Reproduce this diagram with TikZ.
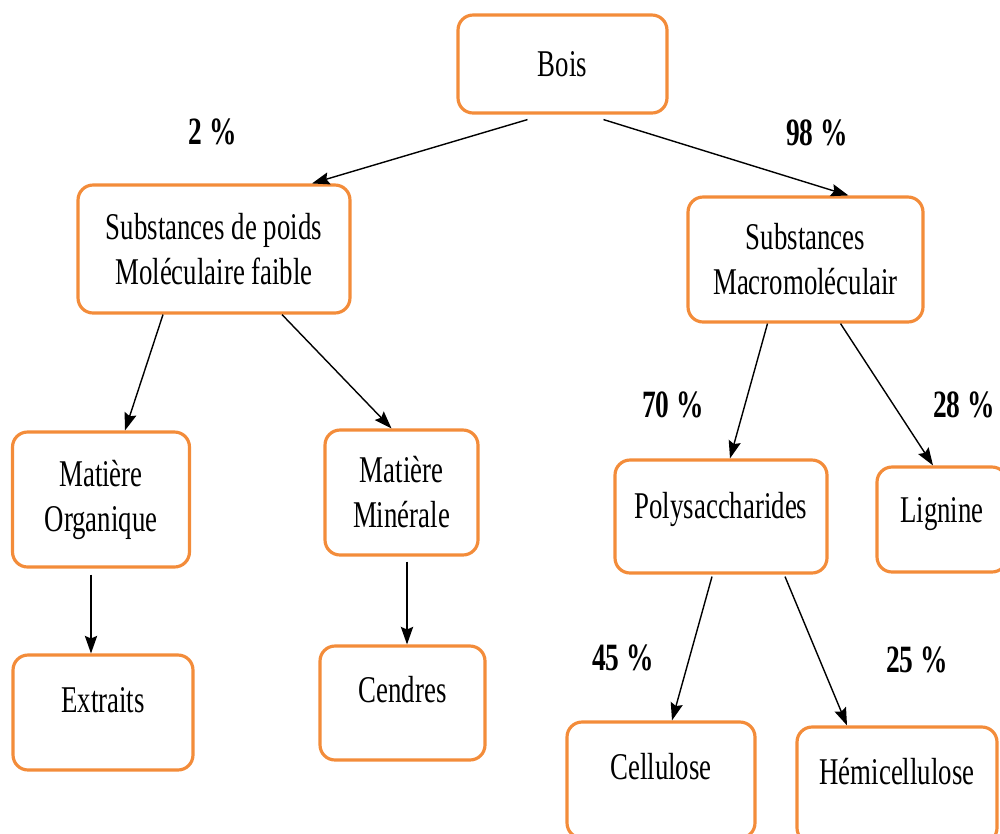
\documentclass[tikz,border=0pt]{standalone}
\usepackage{fontspec}
\setmainfont[FakeStretch=0.71]{Liberation Serif}
\usepackage{tikz}
\usetikzlibrary{arrows.meta,calc,positioning}
\definecolor{woodorange}{RGB}{243,140,58}

\begin{document}
\begin{tikzpicture}[x=0.02cm,y=-0.02cm,>={Stealth[length=10pt,width=7pt,inset=1.5pt]},align=center,
		box/.style={draw=woodorange,line width=1.8pt,rounded corners=0.3cm,fill=white,font=\fontsize{21.5pt}{25.6pt}\selectfont},
		pct/.style={font=\fontsize{22pt}{26pt}\selectfont\bfseries},
		raised/.style={text depth=#1}]
			\useasboundingbox (0,0) rectangle (1000,833);
			\clip (0,0) rectangle (1000,833);
			\node[box,minimum width=4.18cm,minimum height=1.96cm] (bois) at (562.5,64) {Bois};
			\node[box,minimum width=5.44cm,minimum height=2.56cm] (faible) at (214,249) {Substances de poids\\Moléculaire faible};
			\node[box,minimum width=4.70cm,minimum height=2.50cm] (macro) at (805.5,259.5) {Substances\\Macromoléculair};
			\node[box,minimum width=3.54cm,minimum height=2.70cm] (organique) at (101,499.5) {Matière\\Organique};
			\node[box,minimum width=3.06cm,minimum height=2.50cm] (minerale) at (401.5,492.5) {Matière\\Minérale};
			\node[box,raised=13pt,minimum width=4.24cm,minimum height=2.26cm] (poly) at (721,516.5) {Polysaccharides};
			\node[box,raised=11pt,minimum width=2.60cm,minimum height=2.10cm] (lignine) at (942,519.5) {Lignine};
			\node[box,raised=14pt,minimum width=3.60cm,minimum height=2.30cm] (extraits) at (103,712.5) {Extraits};
			\node[box,raised=15pt,minimum width=3.30cm,minimum height=2.28cm] (cendres) at (402.5,703) {Cendres};
			\node[box,raised=15pt,minimum width=3.76cm,minimum height=2.32cm] (cellulose) at (661,780) {Cellulose};
			\node[box,raised=15pt,minimum width=4.00cm,minimum height=2.32cm] (hemi) at (897,785) {Hémicellulose};
			\node[pct] (p_2) at (213,132) {2 \%};
			\node[pct] (p_98) at (817,133) {98 \%};
			\node[pct] (p_70) at (673,405) {70 \%};
			\node[pct] (p_28) at (964,405) {28 \%};
			\node[pct] (p_45) at (623,658) {45 \%};
			\node[pct] (p_25) at (917,660) {25 \%};
			\path[->,line width=0.8pt]
				($(bois.south)+(-35,5)$) edge ($(faible.north)+(98,0)$)
				($(bois.south)+(41,5)$) edge ($(macro.north)+(43,0)$)
				($(faible.south)+(-51,0)$) edge ($(organique.north)+(24,0)$)
				($(faible.south)+(68,0)$) edge ($(minerale.north)+(-10,0)$)
				($(organique.south)+(-10,6)$) edge ($(extraits.north)+(-12,0)$)
				($(minerale.south)+(5.5,5)$) edge ($(cendres.north)+(4.5,0)$)
				($(macro.south)+(-38,0)$) edge ($(poly.north)+(9,0)$)
				($(macro.south)+(35,0)$) edge ($(lignine.north)+(-9,0)$)
				($(poly.south)+(-9,2)$) edge ($(cellulose.north)+(11,0)$)
				($(poly.south)+(64,2)$) edge ($(hemi.north)+(-50,0)$);
		\end{tikzpicture}
\end{document}
